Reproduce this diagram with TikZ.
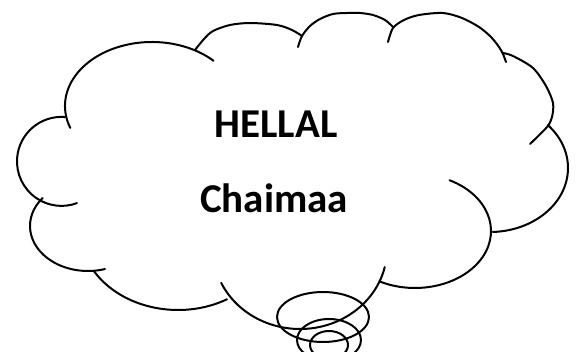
\documentclass[tikz,border=0pt]{standalone}
\usepackage{fontspec}
\setmainfont{Carlito}
\usepackage{tikz}
\usetikzlibrary{positioning}

\begin{document}
\begin{tikzpicture}[line cap=round,line join=round,x=1pt,y=-1pt,
  lobe/.style={line width=2pt, color=black},
  bigtext/.style={font=\bfseries\fontsize{41}{49}\selectfont, anchor=base, inner sep=0pt}]
\clip(0,0) rectangle (579,352);
\fill[white] (0,0) rectangle (579,352);
\draw [lobe] (152,106) ++(160:87 and 64) arc[start angle=160, end angle=315, x radius=87, y radius=64];
\draw [lobe] (61.5,161.4) ++(274.5:44.5 and 44.5) arc[start angle=274.5, end angle=69.6, x radius=44.5, y radius=44.5];
\draw [lobe] (88,226) ++(218.5:58 and 45) arc[start angle=218.5, end angle=73, x radius=58, y radius=45];
\draw [lobe] (178,230) ++(149:98 and 80) arc[start angle=149, end angle=60, x radius=98, y radius=80];
\draw [lobe] plot[smooth] coordinates {(195,50) (204,39) (213,31) (230,25) (250,23) (277,25) (292,30) (302,36)};
\draw [lobe] plot[smooth] coordinates {(298,47) (302,36) (310,26) (320,19) (333,14) (347,13) (360,13) (373,15) (385,20) (393,27)};
\draw [lobe] plot[smooth] coordinates {(388,42) (393,28) (404,20) (419,15) (443,13) (462,18) (479,27) (491,37) (499,47) (503,54) (506,62)};
\draw [lobe] plot[smooth] coordinates {(503,53) (513,56) (533,68) (546,86) (553,103) (552,117) (547,127) (530,144)};
\draw [lobe] (490,168) ++(-42:78 and 64) arc[start angle=-42, end angle=88, x radius=78, y radius=64];
\draw [lobe] (415,231) ++(-63:76 and 57) arc[start angle=-63, end angle=118, x radius=76, y radius=57];
\draw [lobe] (300,249) ++(13:87 and 80) arc[start angle=13, end angle=155, x radius=87, y radius=80];
\draw [lobe] (323,317) ellipse (46pt and 25pt);
\draw [lobe] (329,340) ellipse (32pt and 21pt);
\draw [lobe] (329,345) ellipse (19pt and 14pt);
\node [bigtext] (hellal) at (276,138) {HELLAL};
\node [bigtext] (chaimaa) at (274,213) {Chaimaa};
\end{tikzpicture}
\end{document}
